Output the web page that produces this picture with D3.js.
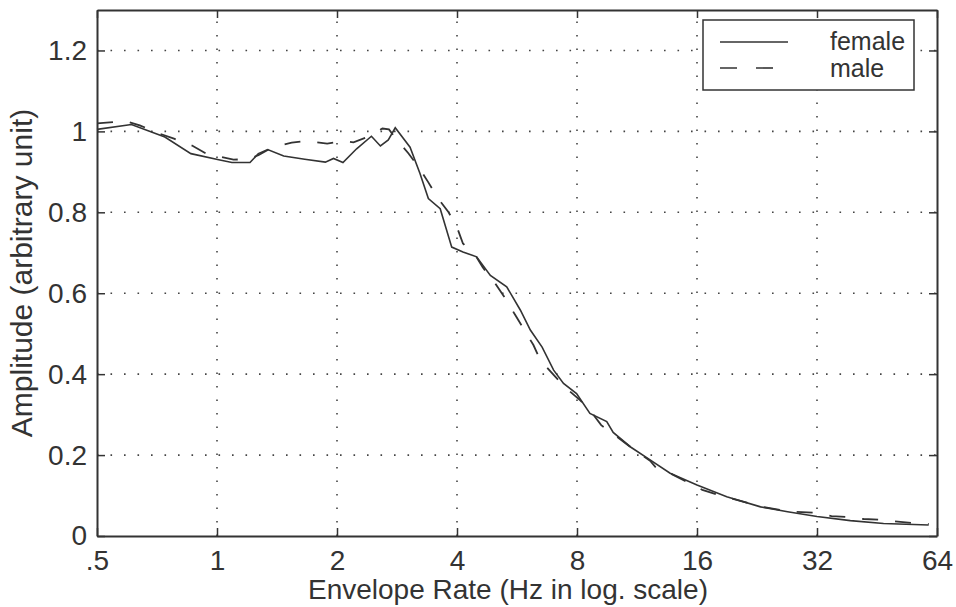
<!DOCTYPE html>
<html>
<head>
<meta charset="utf-8">
<script src="https://cdn.jsdelivr.net/npm/d3@7"></script>
<style>
  body { margin: 0; background: #fff; }
  svg { display: block; font-family: "Liberation Sans", Arial, sans-serif; }
  .axis path, .axis line { stroke: #333; }
  .axis text { fill: #333; font-size: 28px; }
</style>
</head>
<body>
<div id="chart"></div>
<script>
// tick values / labels
let xTicks = [0.5, 1, 2, 4, 8, 16, 32, 64]
let xTickLabels = ['.5', '1', '2', '4', '8', '16', '32', '64']
let yTicks = [0, 0.2, 0.4, 0.6, 0.8, 1, 1.2]
let yTickLabels = ['0', '0.2', '0.4', '0.6', '0.8', '1', '1.2']

// female curve (solid)
let femaleHz = [0.5, 0.61, 0.74, 0.86, 1.01, 1.09, 1.21, 1.27, 1.34, 1.47, 1.66, 1.87, 1.96, 2.07,
  2.24, 2.44, 2.57, 2.69, 2.8, 3.05, 3.23, 3.39, 3.63, 3.88, 4.14, 4.48, 4.85, 5.33, 5.77, 6.11,
  6.54, 6.99, 7.4, 7.98, 8.62, 9.5, 9.86, 10.9, 12.2, 13.7, 16, 19, 23.1, 27, 32, 38.8, 47, 61]
let femaleAmp = [1.005, 1.017, 0.986, 0.945, 0.93, 0.923, 0.923, 0.945, 0.955, 0.939, 0.931, 0.924, 0.933, 0.923,
  0.957, 0.988, 0.964, 0.979, 1.009, 0.961, 0.896, 0.834, 0.809, 0.714, 0.702, 0.69, 0.644, 0.616, 0.558, 0.509,
  0.467, 0.41, 0.377, 0.352, 0.303, 0.283, 0.256, 0.22, 0.188, 0.155, 0.126, 0.097, 0.072, 0.06, 0.048, 0.038, 0.031, 0.027]

// male curve (dashed)
let maleHz = [0.5, 0.59, 0.64, 0.71, 0.78, 0.87, 0.94, 1.1, 1.2, 1.27, 1.38, 1.54, 1.67, 1.89, 2.09,
  2.2, 2.38, 2.6, 2.7, 2.83, 3.02, 3.21, 3.39, 3.58, 3.81, 4, 4.14, 4.48, 4.64, 4.98, 5.28, 5.6, 5.86,
  6.22, 6.47, 6.99, 7.46, 8.14, 8.62, 9.2, 9.86, 10.9, 12.2, 12.6, 13.7, 16.5, 18.2, 23.1, 27, 32, 34.8,
  38.1, 41.9, 46.1, 55.3, 61]
let maleAmp = [1.02, 1.025, 1.015, 0.996, 0.982, 0.964, 0.945, 0.93, 0.932, 0.941, 0.961, 0.972, 0.976, 0.97, 0.976,
  0.973, 0.986, 1.007, 1.005, 0.978, 0.946, 0.911, 0.874, 0.835, 0.8, 0.763, 0.723, 0.689, 0.664, 0.625, 0.588, 0.546, 0.514,
  0.472, 0.435, 0.398, 0.368, 0.336, 0.311, 0.274, 0.252, 0.22, 0.186, 0.17, 0.155, 0.114, 0.101, 0.073, 0.061, 0.057, 0.049,
  0.047, 0.042, 0.04, 0.032, 0.03]

let seriesNames = ['female', 'male']

let width = 956
let height = 607
let margin = {left: 97, right: 19, top: 10, bottom: 71}
let ink = '#333'

let svg = d3.select('#chart').append('svg')
  .attr('width', width)
  .attr('height', height)

let x = d3.scaleLog().base(2).domain([0.5, 64]).range([margin.left, width - margin.right])
let y = d3.scaleLinear().domain([0, 1.3]).range([height - margin.bottom, margin.top])

// dotted grid
svg.append('g').selectAll('line')
  .data(xTicks.slice(1, -1))
  .enter().append('line')
  .attr('x1', d => x(d)).attr('x2', d => x(d))
  .attr('y1', y(0)).attr('y2', y(1.3))
  .attr('stroke', '#444').attr('stroke-width', 1.6)
  .attr('stroke-dasharray', '1.6,11.9')

svg.append('g').selectAll('line')
  .data(yTicks.slice(1))
  .enter().append('line')
  .attr('x1', x(0.5)).attr('x2', x(64))
  .attr('y1', d => y(d)).attr('y2', d => y(d))
  .attr('stroke', '#444').attr('stroke-width', 1.6)
  .attr('stroke-dasharray', '1.6,11.9')

// axes, ticks pointing inward on all four sides
let xLabel = (d, i) => xTickLabels[i]
let yLabel = (d, i) => yTickLabels[i]

svg.append('g').attr('class', 'axis')
  .attr('transform', `translate(0,${y(0)})`)
  .call(d3.axisBottom(x).tickValues(xTicks).tickSize(-8).tickSizeOuter(0).tickPadding(9).tickFormat(xLabel))
  .call(g => g.selectAll('text').attr('dy', '0.88em'))

svg.append('g').attr('class', 'axis')
  .attr('transform', `translate(0,${y(1.3)})`)
  .call(d3.axisTop(x).tickValues(xTicks).tickSize(-8).tickSizeOuter(0).tickFormat(''))

svg.append('g').attr('class', 'axis')
  .attr('transform', `translate(${x(0.5)},0)`)
  .call(d3.axisLeft(y).tickValues(yTicks).tickSize(-8).tickSizeOuter(0).tickPadding(10).tickFormat(yLabel))

svg.append('g').attr('class', 'axis')
  .attr('transform', `translate(${x(64)},0)`)
  .call(d3.axisRight(y).tickValues(yTicks).tickSize(-8).tickSizeOuter(0).tickFormat(''))

svg.selectAll('.axis path').attr('stroke-width', 2)
svg.selectAll('.axis line').attr('stroke-width', 1.5)

// curves
let line = d3.line()
  .x(d => x(d[0]))
  .y(d => y(d[1]))

let femaleData = femaleHz.map((f, i) => [f, femaleAmp[i]])
let maleData = maleHz.map((f, i) => [f, maleAmp[i]])

svg.append('path')
  .datum(maleData)
  .attr('d', line)
  .attr('fill', 'none')
  .attr('stroke', ink).attr('stroke-width', 1.8)
  .attr('stroke-dasharray', '16,17')

svg.append('path')
  .datum(femaleData)
  .attr('d', line)
  .attr('fill', 'none')
  .attr('stroke', ink).attr('stroke-width', 1.6)

// axis titles
svg.append('text')
  .attr('x', 508)
  .attr('y', 599)
  .attr('text-anchor', 'middle')
  .attr('font-size', 28)
  .attr('fill', ink)
  .text('Envelope Rate (Hz in log. scale)')

svg.append('text')
  .attr('transform', `translate(32,${y(0.65)}) rotate(-90)`)
  .attr('text-anchor', 'middle')
  .attr('font-size', 30)
  .attr('fill', ink)
  .text('Amplitude (arbitrary unit)')

// legend
let legend = svg.append('g')
legend.append('rect')
  .attr('x', 703).attr('y', 20)
  .attr('width', 211).attr('height', 70)
  .attr('fill', '#fff')
  .attr('stroke', ink).attr('stroke-width', 1.5)

legend.selectAll('line.key')
  .data(seriesNames)
  .enter().append('line')
  .attr('class', 'key')
  .attr('x1', 720).attr('x2', 788)
  .attr('y1', (d, i) => 42 + i * 26).attr('y2', (d, i) => 42 + i * 26)
  .attr('stroke', ink).attr('stroke-width', 1.6)
  .attr('stroke-dasharray', (d, i) => i === 0 ? null : '17,19')

legend.selectAll('text')
  .data(seriesNames)
  .enter().append('text')
  .attr('x', 830)
  .attr('y', (d, i) => 50 + i * 27)
  .attr('font-size', 25)
  .attr('fill', ink)
  .text(d => d)
</script>
</body>
</html>
